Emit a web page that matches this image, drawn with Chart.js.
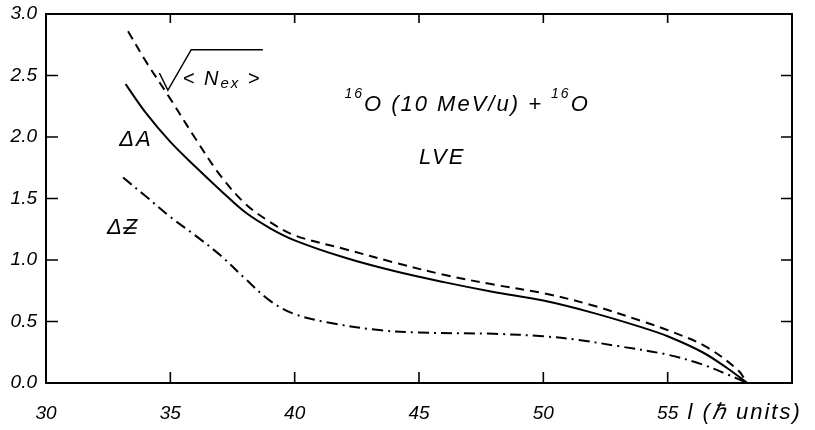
<!DOCTYPE html>
<html>
<head>
<meta charset="utf-8">
<script src="https://cdn.jsdelivr.net/npm/chart.js@4"></script>
<style>
  body { margin: 0; background: #fff; }
</style>
</head>
<body>
<canvas id="myChart" width="815" height="430"></canvas>
<script>
// l values (hbar units) and curve values
var lNex = [33.3, 34, 35, 36, 37, 38, 39, 40, 42, 44, 46, 48, 50, 52, 54, 55, 56.5, 57.8, 58.2];
var nexValues = [2.86, 2.62, 2.31, 1.99, 1.69, 1.46, 1.31, 1.20, 1.09, 0.98, 0.88, 0.80, 0.73, 0.63, 0.50, 0.43, 0.30, 0.11, 0.0];

var lA = [33.2, 34, 35, 36, 37, 38, 39, 40, 42, 44, 46, 48, 50, 52, 54, 55, 56.4, 57.4, 58.2];
var deltaA = [2.43, 2.20, 1.96, 1.76, 1.57, 1.39, 1.26, 1.16, 1.02, 0.91, 0.82, 0.74, 0.67, 0.57, 0.45, 0.38, 0.25, 0.12, 0.0];

var lZ = [33.1, 34, 35, 36, 37, 38, 39, 40, 41.4, 43.4, 45, 48, 50, 51.4, 53, 55, 56.4, 57.4, 58.2];
var deltaZ = [1.67, 1.52, 1.35, 1.20, 1.04, 0.85, 0.67, 0.56, 0.49, 0.43, 0.41, 0.40, 0.38, 0.35, 0.30, 0.23, 0.15, 0.07, 0.0];

var xTicks = [30, 35, 40, 45, 50, 55];
var yTicks = [0.0, 0.5, 1.0, 1.5, 2.0, 2.5, 3.0];

function pts(xs, ys) {
    return xs.map(function (x, i) { return { x: x, y: ys[i] }; });
}

var fontFam = '"Liberation Sans", Arial, sans-serif';

var framePlugin = {
    id: 'frame',
    afterDraw: function (chart) {
        var ctx = chart.ctx;
        var a = chart.chartArea;
        var xs = chart.scales.x, ys = chart.scales.y;
        function X(v) { return xs.getPixelForValue(v); }
        function Y(v) { return ys.getPixelForValue(v); }
        ctx.save();
        ctx.strokeStyle = '#000';
        ctx.lineWidth = 2;
        ctx.strokeRect(a.left, a.top, a.right - a.left, a.bottom - a.top);

        // inward ticks
        ctx.lineWidth = 1.6;
        ctx.beginPath();
        yTicks.forEach(function (v) {
            if (v === 0 || v === 3) return;
            ctx.moveTo(a.left, Y(v)); ctx.lineTo(a.left + 12, Y(v));
            ctx.moveTo(a.right, Y(v)); ctx.lineTo(a.right - 11, Y(v));
        });
        xTicks.forEach(function (v) {
            if (v === 30) return;
            ctx.moveTo(X(v), a.bottom); ctx.lineTo(X(v), a.bottom - 11);
            ctx.moveTo(X(v), a.top); ctx.lineTo(X(v), a.top + 9);
        });
        ctx.stroke();

        // labels
        ctx.fillStyle = '#000';
        ctx.textBaseline = 'middle';
        ctx.textAlign = 'left';
        ctx.letterSpacing = '2px';

        ctx.font = 'italic 22px ' + fontFam;
        ctx.fillText('\u0394A', X(32.95), Y(1.98));
        ctx.fillText('\u0394Z', X(32.45), Y(1.26));
        // stroke through the Z
        ctx.lineWidth = 1.6;
        ctx.beginPath();
        ctx.moveTo(X(33.1), Y(1.26)); ctx.lineTo(X(33.65), Y(1.26));
        ctx.stroke();

        // sqrt <N_ex>
        ctx.lineWidth = 1.5;
        ctx.beginPath();
        ctx.moveTo(X(34.56), Y(2.52));
        ctx.lineTo(X(34.9), Y(2.38));
        ctx.lineTo(X(35.84), Y(2.71));
        ctx.lineTo(X(38.72), Y(2.71));
        ctx.stroke();
        var tx = X(35.5), ty = Y(2.47);
        ctx.font = 'italic 20px ' + fontFam;
        ctx.fillText('< N', tx, ty);
        var w = ctx.measureText('< N').width;
        ctx.font = 'italic 15px ' + fontFam;
        ctx.fillText('ex', tx + w, ty + 5);
        var w2 = ctx.measureText('ex').width;
        ctx.font = 'italic 20px ' + fontFam;
        ctx.fillText(' >', tx + w + w2, ty);

        // reaction title
        var px = X(42.0), py = Y(2.26);
        ctx.font = 'italic 14px ' + fontFam;
        ctx.fillText('16', px, py - 11);
        px += ctx.measureText('16').width;
        ctx.font = 'italic 22px ' + fontFam;
        ctx.fillText('O (10 MeV/u) + ', px, py);
        px += ctx.measureText('O (10 MeV/u) + ').width;
        ctx.font = 'italic 14px ' + fontFam;
        ctx.fillText('16', px, py - 11);
        px += ctx.measureText('16').width;
        ctx.font = 'italic 22px ' + fontFam;
        ctx.fillText('O', px, py);

        ctx.fillText('LVE', X(45.0), Y(1.83));

        // x axis title
        ctx.font = 'italic 22px ' + fontFam;
        ctx.fillText('l (\u210F units)', X(55.8), a.bottom + 30);
        ctx.restore();
    }
};

var ctx = document.getElementById('myChart').getContext('2d');
var myChart = new Chart(ctx, {
    type: 'line',
    data: {
        datasets: [{
            label: 'sqrt<Nex>',
            data: pts(lNex, nexValues),
            borderColor: '#000',
            borderWidth: 2,
            borderDash: [9, 6]
        }, {
            label: 'dA',
            data: pts(lA, deltaA),
            borderColor: '#000',
            borderWidth: 2
        }, {
            label: 'dZ',
            data: pts(lZ, deltaZ),
            borderColor: '#000',
            borderWidth: 2,
            borderDash: [11, 5, 2, 5]
        }]
    },
    options: {
        responsive: false,
        animation: false,
        elements: {
            point: { radius: 0 },
            line: { tension: 0.35, fill: false }
        },
        layout: { padding: { top: 14, right: 23, left: 0, bottom: 0 } },
        plugins: {
            legend: { display: false },
            tooltip: { enabled: false }
        },
        scales: {
            x: {
                type: 'linear',
                min: 30,
                max: 60,
                afterFit: function (s) { s.height = 47; s.paddingRight = 0; },
                afterBuildTicks: function (s) {
                    s.ticks = xTicks.map(function (v) { return { value: v }; });
                },
                grid: { display: false, drawTicks: false },
                border: { display: false },
                ticks: {
                    color: '#000',
                    padding: 19,
                    maxRotation: 0,
                    font: { family: fontFam, size: 19, style: 'italic' }
                }
            },
            y: {
                min: 0,
                max: 3,
                afterFit: function (s) { s.width = 46; s.paddingTop = 0; s.paddingBottom = 0; },
                afterBuildTicks: function (s) {
                    s.ticks = yTicks.map(function (v) { return { value: v }; });
                },
                grid: { display: false, drawTicks: false },
                border: { display: false },
                ticks: {
                    color: '#000',
                    padding: 9,
                    font: { family: fontFam, size: 19, style: 'italic' },
                    callback: function (v) { return Number(v).toFixed(1); }
                }
            }
        }
    },
    plugins: [framePlugin]
});
</script>
</body>
</html>
